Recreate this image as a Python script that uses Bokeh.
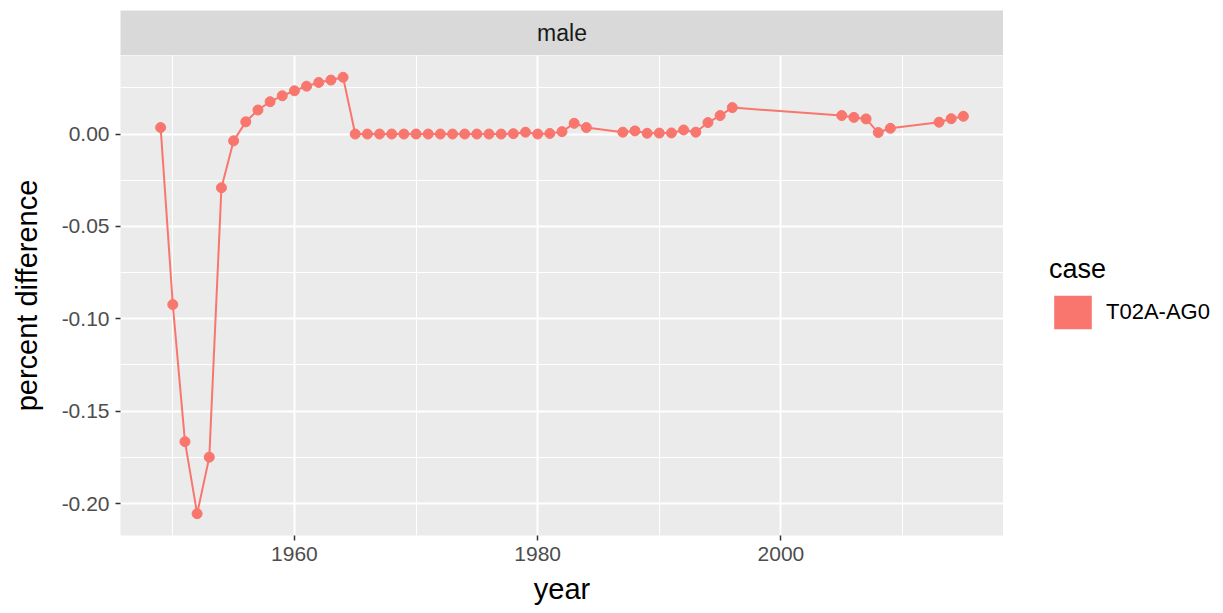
from bokeh.plotting import figure
from bokeh.models import Range1d, FixedTicker, Legend, LegendItem, Label
from bokeh.layouts import column, row
from bokeh.embed import file_html
from bokeh.resources import INLINE

# ---- data ----
years = [1949, 1950, 1951, 1952, 1953, 1954, 1955, 1956, 1957, 1958, 1959,
         1960, 1961, 1962, 1963, 1964,
         1965, 1966, 1967, 1968, 1969, 1970, 1971, 1972, 1973, 1974, 1975,
         1976, 1977, 1978, 1979, 1980, 1981, 1982, 1983, 1984,
         1987, 1988, 1989, 1990, 1991, 1992, 1993, 1994, 1995, 1996,
         2005, 2006, 2007, 2008, 2009,
         2013, 2014, 2015]
pct_diff = [0.0035, -0.0923, -0.1665, -0.2055, -0.1749, -0.0291, -0.0037, 0.0066, 0.0130, 0.0175, 0.0207,
            0.0234, 0.0259, 0.0279, 0.0292, 0.0307,
            0.0, 0.0, 0.0, 0.0, 0.0, 0.0, 0.0, 0.0, 0.0, 0.0, 0.0,
            0.0, 0.0, 0.0002, 0.0010, 0.0, 0.0003, 0.0013, 0.0058, 0.0035,
            0.0010, 0.0017, 0.0004, 0.0005, 0.0006, 0.0022, 0.0010, 0.0062, 0.0100, 0.0143,
            0.0100, 0.0090, 0.0082, 0.0008, 0.0031,
            0.0064, 0.0083, 0.0096]
series_name = "T02A-AG0"
legend_title = "case"
panel_label = "male"
x_ticks = [1960, 1980, 2000]
x_minor = [1950, 1970, 1990, 2010]
y_ticks = [0.0, -0.05, -0.10, -0.15, -0.20]
y_tick_labels = ["0.00", "-0.05", "-0.10", "-0.15", "-0.20"]
y_minor = [0.025, -0.025, -0.075, -0.125, -0.175]

COLOR = "#F8766D"
FONT = "Liberation Sans"

# ranges with ggplot-like 5% expansion
xlo, xhi = min(years), max(years)
xpad = 0.05 * (xhi - xlo)
ylo, yhi = min(pct_diff), max(pct_diff)
ypad = 0.05 * (yhi - ylo)
x_range = Range1d(xlo - xpad, xhi + xpad)
y_range = Range1d(ylo - ypad, yhi + ypad)

FW = 883
LEFT = 120
TOTAL_H = 605

# ---- strip ----
strip = figure(frame_width=FW, frame_height=45, x_range=x_range, y_range=Range1d(0, 1),
               x_axis_type=None, y_axis_type=None, toolbar_location=None,
               output_backend="svg", min_border_left=LEFT, min_border_right=0,
               min_border_top=10, min_border_bottom=0)
strip.background_fill_color = "#d9d9d9"
strip.border_fill_color = "white"
strip.outline_line_color = None
strip.add_layout(Label(x=(x_range.start + x_range.end) / 2, y=0.5, text=panel_label,
                       text_align="center", text_baseline="middle",
                       text_font=FONT, text_font_size="23px", text_color="#1a1a1a"))

# ---- main panel ----
p = figure(frame_width=FW, frame_height=480, x_range=x_range, y_range=y_range,
           toolbar_location=None, output_backend="svg",
           min_border_left=LEFT, min_border_right=0,
           min_border_top=0, min_border_bottom=70)
p.background_fill_color = "#ebebeb"
p.border_fill_color = "white"
p.outline_line_color = None

p.xaxis.ticker = FixedTicker(ticks=x_ticks, minor_ticks=x_minor)
p.yaxis.ticker = FixedTicker(ticks=y_ticks, minor_ticks=y_minor)
p.yaxis.major_label_overrides = {t: l for t, l in zip(y_ticks, y_tick_labels)}

for g in (p.xgrid, p.ygrid):
    g.grid_line_color = "white"
    g.grid_line_width = 2
    g.minor_grid_line_color = "white"
    g.minor_grid_line_width = 1

for ax in (p.xaxis, p.yaxis):
    ax.axis_line_color = None
    ax.major_tick_line_color = "#333333"
    ax.major_tick_line_width = 1.5
    ax.major_tick_out = 5
    ax.major_tick_in = 0
    ax.minor_tick_line_color = None
    ax.major_label_text_font = FONT
    ax.major_label_text_font_size = "21px"
    ax.major_label_text_color = "#4d4d4d"
    ax.major_label_standoff = 6
    ax.axis_label_text_font = FONT
    ax.axis_label_text_font_size = "29px"
    ax.axis_label_text_font_style = "normal"
    ax.axis_label_text_color = "black"

p.xaxis.axis_label = "year"
p.yaxis.axis_label = "percent difference"
p.xaxis.axis_label_standoff = 9
p.yaxis.axis_label_standoff = 16

p.line(years, pct_diff, line_color=COLOR, line_width=2)
p.scatter(years, pct_diff, size=10, fill_color=COLOR, line_color=COLOR)

# ---- legend panel (separate figure to the right) ----
lg = figure(width=210, height=TOTAL_H, x_range=Range1d(0, 1), y_range=Range1d(0, 1),
            x_axis_type=None, y_axis_type=None, toolbar_location=None,
            output_backend="svg", min_border=0)
lg.background_fill_color = "white"
lg.border_fill_color = "white"
lg.outline_line_color = None
lg.xgrid.visible = False
lg.ygrid.visible = False
# zero-size area glyph: only its legend swatch is visible
key = lg.quad(left=[0], right=[0], top=[0], bottom=[0], fill_color=COLOR, line_color=None)

legend = Legend(items=[LegendItem(label=series_name, renderers=[key])],
                title=legend_title, location=(46, 272),
                glyph_width=47, glyph_height=42, label_standoff=10,
                margin=0, padding=8, spacing=0,
                border_line_color=None, background_fill_color="white",
                title_text_font=FONT, title_text_font_size="27px",
                title_text_font_style="normal", title_text_color="black",
                title_standoff=6,
                label_text_font=FONT, label_text_font_size="22px",
                label_text_color="black")
lg.add_layout(legend)

layout = row(column(strip, p, spacing=0), lg, spacing=0)
open("out.html", "w").write(file_html(layout, INLINE))
